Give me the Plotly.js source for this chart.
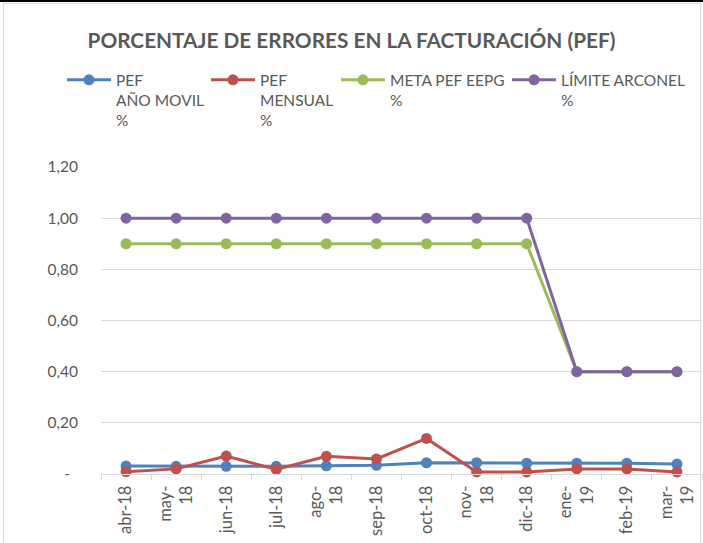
<!DOCTYPE html>
<html>
<head>
<meta charset="utf-8">
<script src="https://cdn.plot.ly/plotly-3.0.1.min.js"></script>
<style>
html,body{margin:0;padding:0;background:#fff;}
#wrap{position:relative;width:703px;height:543px;overflow:hidden;}
#chart{width:703px;height:543px;}
#frame{position:absolute;left:3px;top:3px;width:696px;height:560px;border:1px solid #d9d9d9;pointer-events:none;}
#topline{position:absolute;left:0;top:0;width:703px;height:2px;background:#000;pointer-events:none;}
</style>
</head>
<body>
<div id="wrap">
<div id="chart"></div>
<div id="frame"></div>
<div id="topline"></div>
</div>
<script>
const months = ["abr-18","may-18","jun-18","jul-18","ago-18","sep-18","oct-18","nov-18","dic-18","ene-19","feb-19","mar-19"];
const monthLabels = ["abr-18","may-<br>18","jun-18","jul-18","ago-<br>18","sep-18","oct-18","nov-<br>18","dic-18","ene-<br>19","feb-19","mar-<br>19"];
const pefAnoMovil = [0.031,0.030,0.030,0.030,0.032,0.034,0.044,0.044,0.042,0.042,0.042,0.039];
const pefMensual  = [0.009,0.020,0.070,0.018,0.069,0.059,0.139,0.008,0.008,0.020,0.020,0.008];
const metaPef     = [0.90,0.90,0.90,0.90,0.90,0.90,0.90,0.90,0.90,0.40,0.40,0.40];
const limiteArconel = [1.00,1.00,1.00,1.00,1.00,1.00,1.00,1.00,1.00,0.40,0.40,0.40];
const seriesNames = ["PEF<br>AÑO MOVIL<br>%","PEF<br>MENSUAL<br>%","META PEF EEPG<br>%","LÍMITE ARCONEL<br>%"];
const yTickVals = [0,0.2,0.4,0.6,0.8,1.0,1.2];
const yTickText = ["-\u00a0\u00a0","0,20","0,40","0,60","0,80","1,00","1,20"];

const FONT = "Lato, 'Open Sans', sans-serif";
const legendIds = ["legend","legend2","legend3","legend4"];
const legendX = [-0.0649, 0.1747, 0.3910, 0.6755];
function tr(i, y, color){
  return {
    x: months, y: y, name: seriesNames[i], type: "scatter", mode: "lines+markers",
    line: {color: color, width: 3},
    marker: {color: color, size: 11},
    cliponaxis: false, legend: legendIds[i]
  };
}
const data = [
  tr(0, pefAnoMovil, "#4F81BD"),
  tr(1, pefMensual, "#C0504D"),
  tr(2, metaPef, "#9BBB59"),
  tr(3, limiteArconel, "#8064A2")
];
function leg(i){
  return {orientation: "v", x: legendX[i], xanchor: "left", y: 1.338, yanchor: "top", valign: "top",
    font: {family: FONT, size: 15.5, color: "#595959"}, itemwidth: 44, bgcolor: "rgba(0,0,0,0)", borderwidth: 0};
}
const layout = {
  width: 703, height: 543,
  margin: {l: 101, r: 1, t: 167, b: 69},
  paper_bgcolor: "#fff", plot_bgcolor: "#fff",
  font: {family: FONT, color: "#595959", size: 15},
  title: {text: "<b>PORCENTAJE DE ERRORES EN LA FACTURACIÓN (PEF)</b>", font: {family: FONT, size: 20.8, color: "#595959"}, x: 0.5, xanchor: "center", y: 0.925, yanchor: "middle"},
  showlegend: true,
  legend: leg(0), legend2: leg(1), legend3: leg(2), legend4: leg(3),
  xaxis: {
    type: "category", range: [-0.5, 11.5],
    tickmode: "array", tickvals: months, ticktext: monthLabels,
    tickangle: -90, ticks: "outside", tickson: "boundaries", ticklen: 5, tickcolor: "#d9d9d9",
    showline: true, linecolor: "#d9d9d9", linewidth: 1, showgrid: false, zeroline: false,
    ticklabelstandoff: 4,
    tickfont: {family: FONT, size: 16.5, color: "#595959"}, fixedrange: true
  },
  yaxis: {
    range: [0, 1.2], tickmode: "array", tickvals: yTickVals, ticktext: yTickText,
    showgrid: true, gridcolor: "#d9d9d9", gridwidth: 1, zeroline: false, showline: false,
    ticks: "", ticklabelstandoff: 22,
    tickfont: {family: FONT, size: 15.5, color: "#595959"}, fixedrange: true
  }
};
Plotly.newPlot("chart", data, layout, {displayModeBar: false, staticPlot: true});
</script>
</body>
</html>
